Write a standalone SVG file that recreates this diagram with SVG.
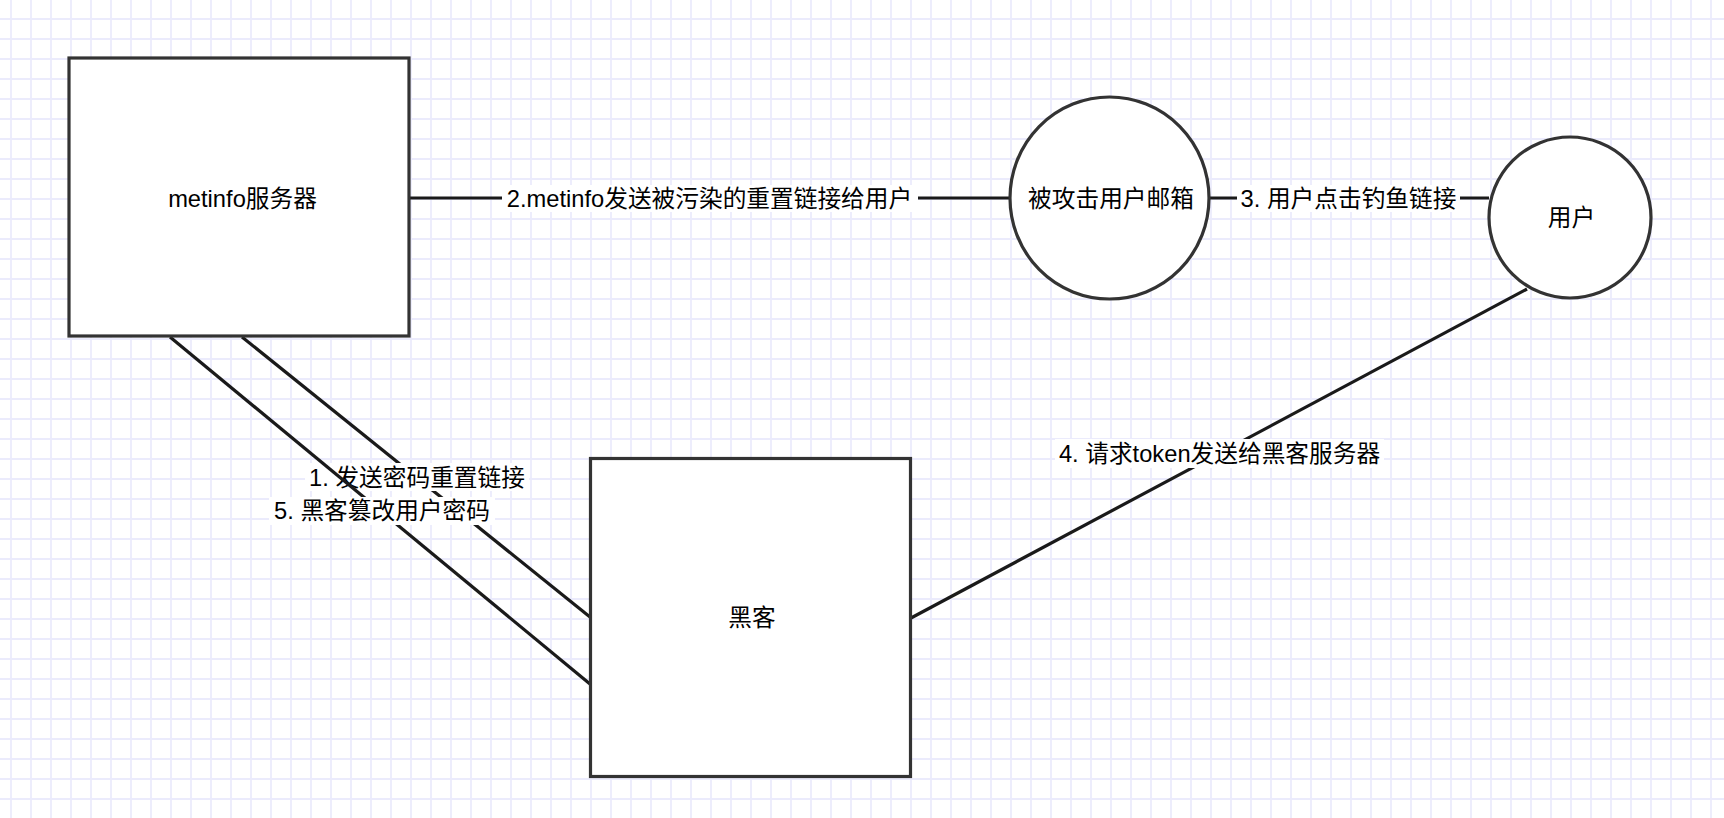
<svg xmlns="http://www.w3.org/2000/svg" width="1724" height="818" viewBox="0 0 1724 818">
  <style>
    .node { fill: #ffffff; stroke: #333333; stroke-width: 3.2; }
    .edge { stroke: #1a1a1a; stroke-width: 3.2; fill: none; }
    .txt { font-family: "Liberation Sans", "Noto Sans CJK SC", sans-serif; font-size: 23.7px; fill: #000000; text-anchor: middle; dominant-baseline: central; }
    .lblbg { fill: #ffffff; stroke: none; }
  </style>
  <defs>
    <pattern id="grid" patternUnits="userSpaceOnUse" x="10" y="18" width="20" height="20">
      <path d="M1 0 V20 M0 1 H20" stroke="#ebebfc" stroke-width="1.8" fill="none"/>
    </pattern>
  </defs>
  <rect x="0" y="0" width="1724" height="818" fill="#ffffff"/>
  <rect x="0" y="0" width="1724" height="818" fill="url(#grid)"/>

  <g id="connectors">
    <g id="edge-2">
      <line class="edge" x1="410" y1="198" x2="1009" y2="198"/>
      <rect class="lblbg" x="502" y="185" width="416" height="27"/>
      <text class="txt" x="709.5" y="199">2.metinfo发送被污染的重置链接给用户</text>
    </g>
    <g id="edge-3">
      <line class="edge" x1="1209" y1="198" x2="1489" y2="198"/>
      <rect class="lblbg" x="1237" y="185" width="223" height="27"/>
      <text class="txt" x="1348.5" y="199">3. 用户点击钓鱼链接</text>
    </g>
    <g id="edge-4">
      <line class="edge" x1="1527" y1="289" x2="911" y2="618"/>
      <rect class="lblbg" x="1055" y="439" width="329" height="29"/>
      <text class="txt" x="1219.5" y="454">4. 请求token发送给黑客服务器</text>
    </g>
    <g id="edge-1">
      <line class="edge" x1="242" y1="337" x2="590" y2="617"/>
      <rect class="lblbg" x="305" y="463" width="224" height="28"/>
      <text class="txt" x="417" y="477.5">1. 发送密码重置链接</text>
    </g>
    <g id="edge-5">
      <line class="edge" x1="170" y1="337" x2="590" y2="684"/>
      <rect class="lblbg" x="269" y="497" width="226" height="28"/>
      <text class="txt" x="382" y="511">5. 黑客篡改用户密码</text>
    </g>
  </g>

  <g id="node-metinfo">
    <rect class="node" x="69" y="58" width="340" height="278"/>
    <text class="txt" x="242.5" y="199">metinfo服务器</text>
  </g>
  <g id="node-mailbox">
    <ellipse class="node" cx="1109.5" cy="198" rx="99.5" ry="101"/>
    <text class="txt" x="1111" y="199">被攻击用户邮箱</text>
  </g>
  <g id="node-user">
    <ellipse class="node" cx="1570" cy="217.5" rx="81" ry="80.5"/>
    <text class="txt" x="1571.5" y="218">用户</text>
  </g>
  <g id="node-hacker">
    <rect class="node" x="590.5" y="458.5" width="320" height="318"/>
    <text class="txt" x="752" y="618">黑客</text>
  </g>
</svg>
